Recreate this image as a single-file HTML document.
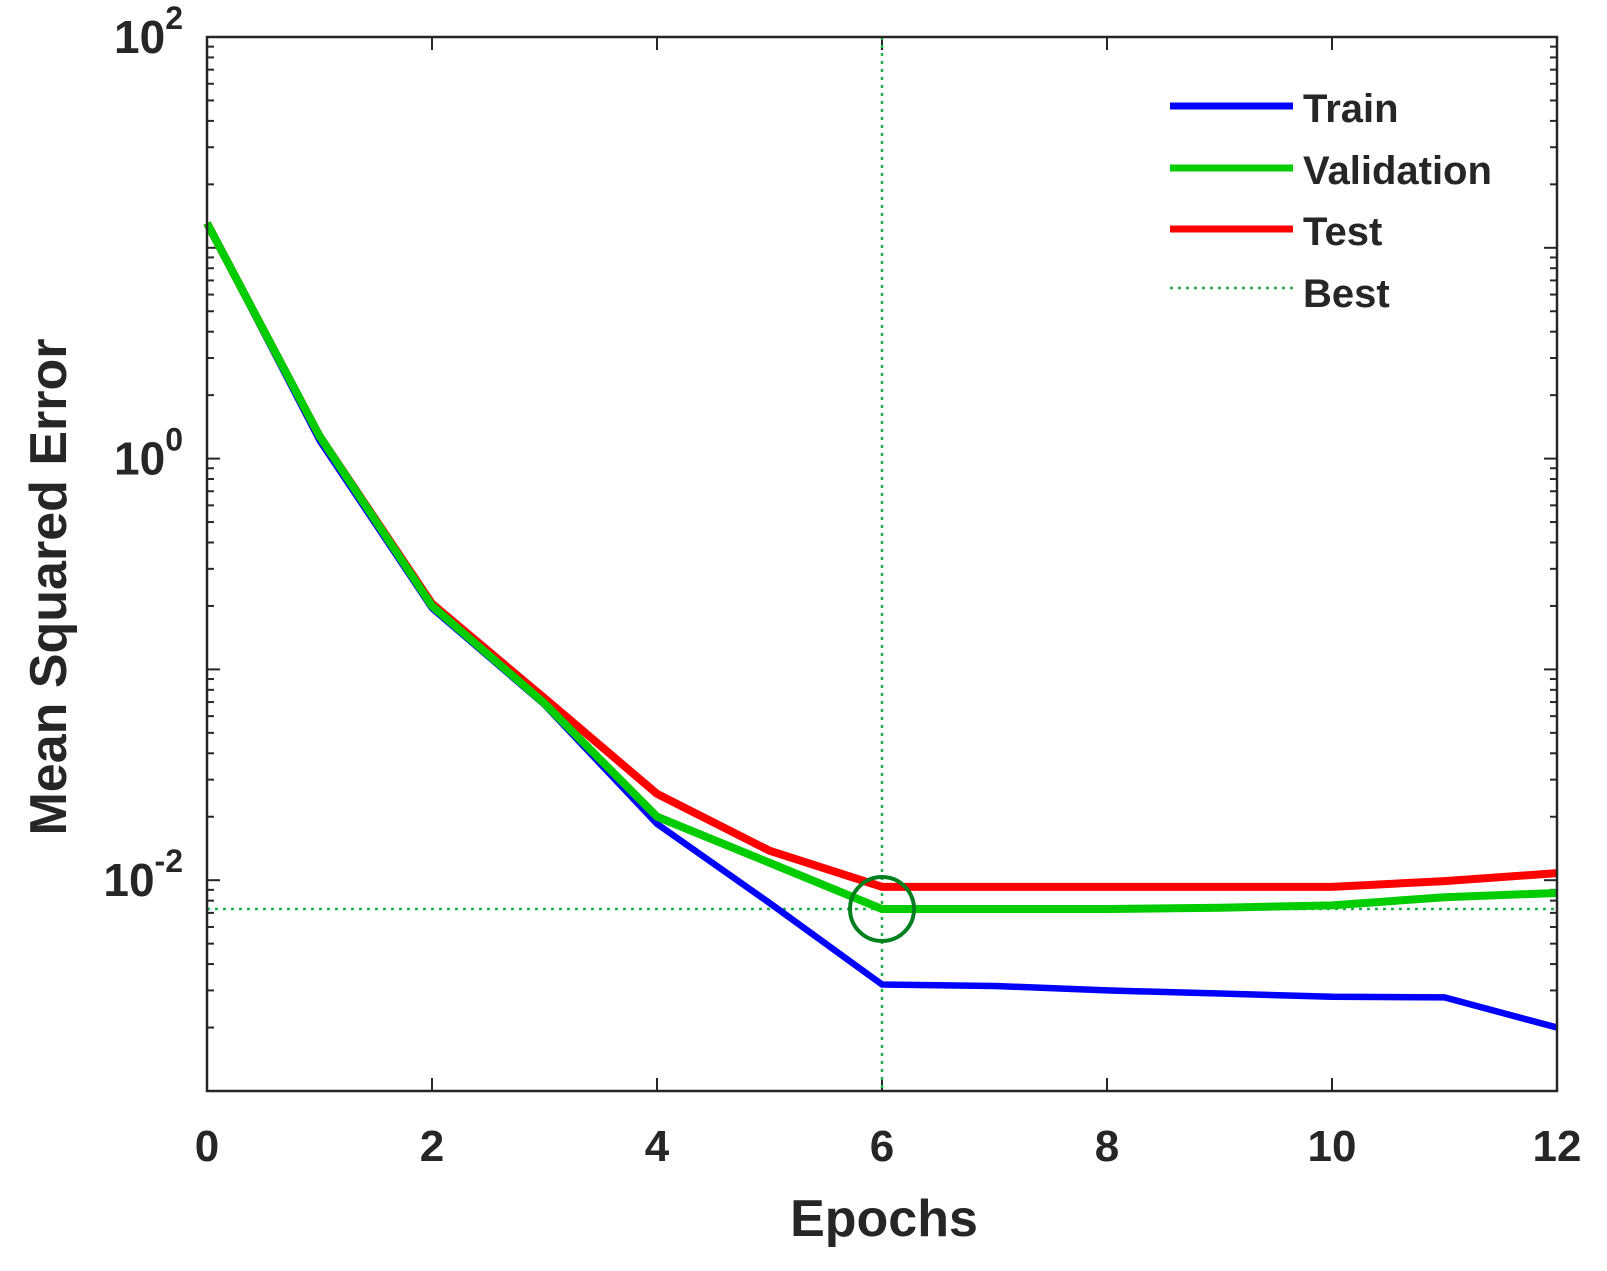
<!DOCTYPE html>
<html><head><meta charset="utf-8"><style>
body{margin:0;background:#fff}
svg text{font-family:"Liberation Sans",Arial,sans-serif;font-weight:bold;fill:#262626}
</style></head><body>
<svg id="c" width="1607" height="1266"></svg>
<script>
const epochs=[0,1,2,3,4,5,6,7,8,9,10,11,12];
const trainVals=[13.1,1.22,0.195,0.068,0.0185,0.0078,0.0032,0.00315,0.0030,0.0029,0.0028,0.00278,0.0020];
const valVals=[13.1,1.28,0.2,0.069,0.0200,0.0121,0.0073,0.0073,0.0073,0.0074,0.0076,0.0083,0.0087];
const testVals=[13.1,1.28,0.205,0.073,0.0257,0.0138,0.0093,0.0093,0.0093,0.0093,0.0093,0.0099,0.0108];
const bestEpoch=6;
const bestVal=0.0073;
const xTicks=[0,2,4,6,8,10,12];
const yDecades=[-3,-2,-1,0,1,2];
const yLabelDecades=[0,-2,2];

const L=207,R=1557,T=37,B=1091,NS='http://www.w3.org/2000/svg';
const svg=document.getElementById('c');
const X=v=>L+(v-0)/(12-0)*(R-L);
const Y=v=>B-(Math.log10(v)+3)/5*(B-T);
function el(t,a,p){const e=document.createElementNS(NS,t);for(const k in a)e.setAttribute(k,a[k]);(p||svg).appendChild(e);return e;}
for(const t of xTicks){
 let e=el('line',{x1:X(t),x2:X(t),y1:B,y2:B-13,stroke:'#262626','stroke-width':2});
 
 e=el('line',{x1:X(t),x2:X(t),y1:T,y2:T+13,stroke:'#262626','stroke-width':2});
 
 e=el('text',{x:X(t),y:B+70,'text-anchor':'middle','font-size':44});e.textContent=t;
 
}
for(const d of yDecades){
 for(let m=1;m<10;m++){
  const v=m*Math.pow(10,d);if(d==2&&m>1)break;
  const len=m==1?13:7,y=Y(v);
  let e=el('line',{x1:L,x2:L+len,y1:y,y2:y,stroke:'#262626','stroke-width':2});
  
  e=el('line',{x1:R,x2:R-len,y1:y,y2:y,stroke:'#262626','stroke-width':2});
  
 }
}
for(const d of yLabelDecades){
 const y=Y(Math.pow(10,d));
 let e=el('text',{x:L-24,y:y+16,'text-anchor':'end','font-size':46});
 
 const s1=document.createElementNS(NS,'tspan');s1.textContent='10';e.appendChild(s1);
 const s2=document.createElementNS(NS,'tspan');s2.setAttribute('dy',-24);s2.setAttribute('font-size',32);s2.textContent=d;e.appendChild(s2);
}
let bl=el('line',{x1:X(bestEpoch),x2:X(bestEpoch),y1:T,y2:B,stroke:'#22b14c','stroke-width':2.5,'stroke-dasharray':'3 5'});

bl=el('line',{x1:L,x2:R,y1:Y(bestVal),y2:Y(bestVal),stroke:'#22b14c','stroke-width':2.5,'stroke-dasharray':'3 5'});

function series(vals,col,name,w){
 const p=el('polyline',{points:vals.map((v,i)=>X(epochs[i])+','+Y(v)).join(' '),fill:'none',stroke:col,'stroke-width':w,'stroke-linejoin':'round'});
 
}
series(trainVals,'#0000ff','train-line',6.5);
series(testVals,'#ff0000','test-line',8);
series(valVals,'#00cc00','validation-line',8);
const c=el('circle',{cx:X(bestEpoch),cy:Y(bestVal),r:32,fill:'none',stroke:'#007f1f','stroke-width':4});

</script>
<svg width="1607" height="1266" style="position:absolute;left:0;top:0">
 <rect x="207" y="37" width="1350" height="1054" fill="none" stroke="#262626" stroke-width="2.5"/>
 <g>
  <line x1="1170" y1="106" x2="1293" y2="106" stroke="#0000ff" stroke-width="7"/>
  <text x="1303" y="122" font-size="40">Train</text>
  <line x1="1170" y1="168" x2="1293" y2="168" stroke="#00cc00" stroke-width="7"/>
  <text x="1303" y="184" font-size="40">Validation</text>
  <line x1="1170" y1="229" x2="1293" y2="229" stroke="#ff0000" stroke-width="7"/>
  <text x="1303" y="245" font-size="40">Test</text>
  <line x1="1170" y1="288" x2="1293" y2="288" stroke="#22b14c" stroke-width="2.5" stroke-dasharray="3 5"/>
  <text x="1303" y="307" font-size="40">Best</text>
 </g>
 <text x="884" y="1236" font-size="52" text-anchor="middle">Epochs</text>
 <text transform="translate(66,587) rotate(-90)" font-size="52" text-anchor="middle">Mean Squared Error</text>
</svg>
</body></html>
